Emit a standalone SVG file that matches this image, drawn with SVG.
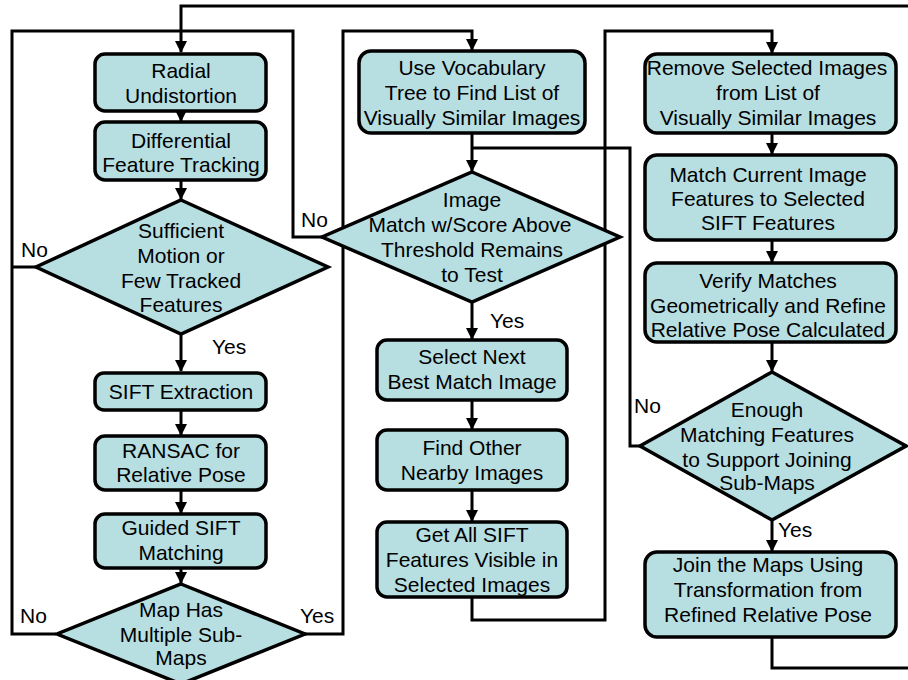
<svg xmlns="http://www.w3.org/2000/svg" width="908" height="680" viewBox="0 0 908 680">
<defs>
<marker id="ah" markerUnits="userSpaceOnUse" markerWidth="12" markerHeight="12" viewBox="0 0 12 12" refX="11" refY="6" orient="auto">
<path d="M0,0 L12,6 L0,12 Z" fill="#000"/>
</marker>
</defs>
<style>
.c{fill:none;stroke:#000;stroke-width:3}
.a{marker-end:url(#ah)}
.n{fill:#B7DEE1;stroke:#000;stroke-width:3.5}
text{font-family:"Liberation Sans",Arial,sans-serif;font-size:21px;fill:#000;text-anchor:middle}
.l{text-anchor:start}
</style>
<rect width="908" height="680" fill="#fff"/>
<g id="connectors">
<path class="c a" d="M908,6 H181 V52"/>
<path class="c a" d="M181,111 V121"/>
<path class="c a" d="M181,180 V199"/>
<path class="c a" d="M181,334 V371"/>
<path class="c a" d="M181,410 V435"/>
<path class="c a" d="M181,490 V513"/>
<path class="c a" d="M181,568 V583"/>
<path class="c" d="M56,634 H12 V31 H293 V237 H322"/>
<path class="c" d="M36,267 H12"/>
<path class="c a" d="M303,634 H343 V31 H472 V50"/>
<path class="c a" d="M472,133 V171"/>
<path class="c" d="M640,446 H630 V148 H472"/>
<path class="c a" d="M472,302 V339"/>
<path class="c a" d="M472,400 V429"/>
<path class="c a" d="M472,490 V521"/>
<path class="c a" d="M472,597 V620 H605 V31 H772 V53"/>
<path class="c a" d="M772,133 V154"/>
<path class="c a" d="M772,240 V262"/>
<path class="c a" d="M772,342 V371"/>
<path class="c a" d="M772,520 V551"/>
<path class="c" d="M772,637 V668 H908"/>
<text class="l" x="21" y="257">No</text>
<text class="l" x="212" y="354">Yes</text>
<text class="l" x="20" y="623">No</text>
<text class="l" x="300" y="623">Yes</text>
<text class="l" x="301" y="227">No</text>
<text class="l" x="490" y="328">Yes</text>
<text class="l" x="634" y="413">No</text>
<text class="l" x="778" y="537">Yes</text>
</g>
<g id="radial"><rect class="n" x="95" y="54" width="171" height="57" rx="10"/><text x="181" y="78">Radial</text><text x="181" y="103">Undistortion</text></g>
<g id="differential"><rect class="n" x="95" y="122" width="171" height="58" rx="10"/><text x="181" y="148">Differential</text><text x="181" y="172">Feature Tracking</text></g>
<g id="sufficient"><polygon class="n" points="181,200 328,267 181,334 36,267"/><text x="181" y="238">Sufficient</text><text x="181" y="263">Motion or</text><text x="181" y="288">Few Tracked</text><text x="181" y="312">Features</text></g>
<g id="sift-extraction"><rect class="n" x="95" y="373" width="171" height="37" rx="9"/><text x="181" y="399">SIFT Extraction</text></g>
<g id="ransac"><rect class="n" x="95" y="436" width="171" height="54" rx="10"/><text x="181" y="458">RANSAC for</text><text x="181" y="482">Relative Pose</text></g>
<g id="guided"><rect class="n" x="95" y="514" width="171" height="54" rx="10"/><text x="181" y="535">Guided SIFT</text><text x="181" y="560">Matching</text></g>
<g id="multiple"><polygon class="n" points="181,584 305,634 181,684 57,634"/><text x="181" y="617">Map Has</text><text x="181" y="642">Multiple Sub-</text><text x="181" y="665">Maps</text></g>
<g id="vocabulary"><rect class="n" x="359" y="51" width="226" height="82" rx="12"/><text x="472" y="75">Use Vocabulary</text><text x="472" y="100">Tree to Find List of</text><text x="472" y="125">Visually Similar Images</text></g>
<g id="image-match"><polygon class="n" points="472,172 620,237 472,302 322,237"/><text x="472" y="207">Image</text><text x="470" y="232">Match w/Score Above</text><text x="472" y="257">Threshold Remains</text><text x="472" y="282">to Test</text></g>
<g id="select-next"><rect class="n" x="377" y="340" width="190" height="60" rx="10"/><text x="472" y="364">Select Next</text><text x="472" y="389">Best Match Image</text></g>
<g id="find-other"><rect class="n" x="377" y="430" width="190" height="60" rx="10"/><text x="472" y="455">Find Other</text><text x="472" y="480">Nearby Images</text></g>
<g id="get-all"><rect class="n" x="377" y="522" width="190" height="75" rx="10"/><text x="472" y="542">Get All SIFT</text><text x="472" y="567">Features Visible in</text><text x="472" y="592">Selected Images</text></g>
<g id="remove"><rect class="n" x="645" y="54" width="251" height="79" rx="12"/><text x="767" y="75">Remove Selected Images</text><text x="768" y="100">from List of</text><text x="768" y="125">Visually Similar Images</text></g>
<g id="match-current"><rect class="n" x="645" y="155" width="251" height="85" rx="12"/><text x="768" y="182">Match Current Image</text><text x="768" y="206">Features to Selected</text><text x="768" y="230">SIFT Features</text></g>
<g id="verify"><rect class="n" x="645" y="263" width="251" height="79" rx="12"/><text x="768" y="288">Verify Matches</text><text x="768" y="313">Geometrically and Refine</text><text x="768" y="337">Relative Pose Calculated</text></g>
<g id="enough"><polygon class="n" points="772,372 906,446 772,520 640,446"/><text x="767" y="417">Enough</text><text x="767" y="442">Matching Features</text><text x="767" y="467">to Support Joining</text><text x="767" y="490">Sub-Maps</text></g>
<g id="join"><rect class="n" x="645" y="552" width="251" height="85" rx="12"/><text x="768" y="572">Join the Maps Using</text><text x="768" y="597">Transformation from</text><text x="768" y="622">Refined Relative Pose</text></g>
</svg>
